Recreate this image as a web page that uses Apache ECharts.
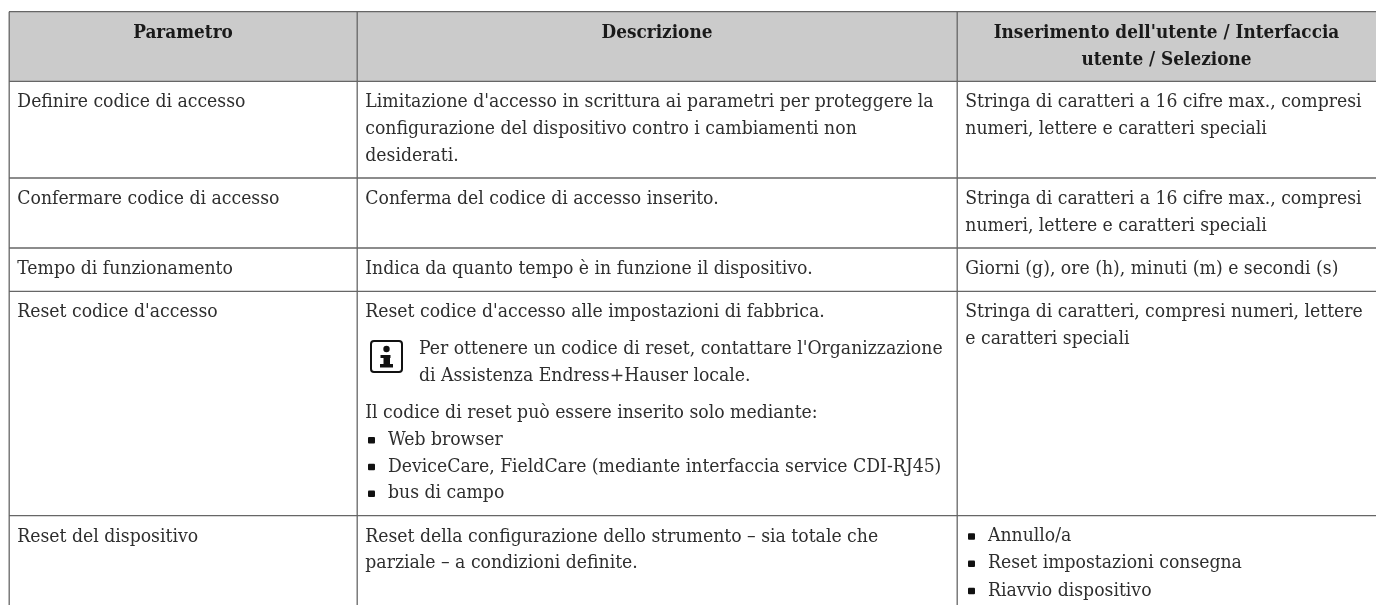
<!DOCTYPE html>
<html><head><meta charset="utf-8">
<style>html,body{margin:0;padding:0;background:#fff}#c{width:1376px;height:605px}</style>
<script src="https://cdn.jsdelivr.net/npm/echarts@6/dist/echarts.min.js"></script>
</head><body><div id="c"></div>
<script>
const headers = [["Parametro"], ["Descrizione"], ["Inserimento dell'utente / Interfaccia", "utente / Selezione"]];
const parameters = ["Definire codice di accesso", "Confermare codice di accesso", "Tempo di funzionamento", "Reset codice d'accesso", "Reset del dispositivo"];
const descriptions = [
  ["Limitazione d'accesso in scrittura ai parametri per proteggere la", "configurazione del dispositivo contro i cambiamenti non", "desiderati."],
  ["Conferma del codice di accesso inserito."],
  ["Indica da quanto tempo è in funzione il dispositivo."],
  ["Reset codice d'accesso alle impostazioni di fabbrica."],
  ["Reset della configurazione dello strumento – sia totale che", "parziale – a condizioni definite."]
];
const notice = ["Per ottenere un codice di reset, contattare l'Organizzazione", "di Assistenza Endress+Hauser locale."];
const resetIntro = "Il codice di reset può essere inserito solo mediante:";
const resetList = ["Web browser", "DeviceCare, FieldCare (mediante interfaccia service CDI-RJ45)", "bus di campo"];
const selections = [
  ["Stringa di caratteri a 16 cifre max., compresi", "numeri, lettere e caratteri speciali"],
  ["Stringa di caratteri a 16 cifre max., compresi", "numeri, lettere e caratteri speciali"],
  ["Giorni (g), ore (h), minuti (m) e secondi (s)"],
  ["Stringa di caratteri, compresi numeri, lettere", "e caratteri speciali"],
  []
];
const resetOptions = ["Annullo/a", "Reset impostazioni consegna", "Riavvio dispositivo"];

const FONT = '"DejaVu Serif Condensed","DejaVu Serif",serif';
const INK = '#2e2e2e', LINE = '#666666';
const colX = [9, 357, 957, 1376];
const rowY = [11.7, 81.3, 178, 248, 291.3, 515.7, 605];
const LH = 26.7;
const g = [];
const txt = (s, x, y, o = {}) => g.push({type:'text', x, y, silent:true, style:{text:s, fontFamily:FONT, fontSize:o.size||19.2, fontWeight:o.w||'normal', fill:o.fill||INK, textAlign:o.a||'left', textVerticalAlign:'middle'}});
const hline = (y, x1=colX[0], x2=colX[3]) => g.push({type:'line', silent:true, shape:{x1, y1:y, x2, y2:y}, style:{stroke:LINE, lineWidth:1.3}});
const vline = (x, y1, y2, w=1.3) => g.push({type:'line', silent:true, shape:{x1:x, y1, x2:x, y2}, style:{stroke:LINE, lineWidth:w}});
const box = (x, y, width, height, r=0) => g.push({type:'rect', silent:true, shape:{x, y, width, height, r}, style:{fill:'#111'}});
g.push({type:'rect', silent:true, shape:{x:colX[0], y:rowY[0], width:colX[3]-colX[0], height:rowY[1]-rowY[0]}, style:{fill:'#cbcbcb'}});
rowY.slice(0,-1).forEach(y => hline(y));
colX.slice(0,3).forEach(x => vline(x+.2, rowY[0], 605));
headers.forEach((h,i) => h.forEach((s,j) => txt(s, (colX[i]+colX[i+1])/2, 33 + j*LH, {a:'center', w:'bold', size:18.8, fill:'#1a1a1a'})));
const PAD = 8.3, T0 = 21;
parameters.forEach((p,i) => {
  const y0 = rowY[i+1] + T0;
  txt(p, colX[0]+PAD, y0);
  descriptions[i].forEach((s,j) => txt(s, colX[1]+PAD, y0 + j*LH));
  selections[i].forEach((s,j) => txt(s, colX[2]+PAD, y0 + j*LH));
});
const nY = rowY[4] + 58;
notice.forEach((s,j) => txt(s, colX[1]+62, nY + j*LH));
// Information symbol of the notice
g.push({type:'rect', silent:true, shape:{x:371, y:341, width:31, height:31, r:3}, style:{fill:'#fff', stroke:'#111', lineWidth:2}});
g.push({type:'circle', silent:true, shape:{cx:386.5, cy:349, r:3.2}, style:{fill:'#111'}});
box(380.5, 355, 10, 3); box(383.5, 355, 6.5, 12); box(380, 364, 13, 3.5);
txt(resetIntro, colX[1]+PAD, rowY[4]+121.7);
const bullet = (x,y) => box(x, y-3, 7, 6.5, 1);
resetList.forEach((s,j) => { const y = rowY[4]+148.7+j*LH; bullet(colX[1]+11, y); txt(s, colX[1]+31, y); });
resetOptions.forEach((s,j) => { const y = rowY[5]+20.5+j*27.3; bullet(colX[2]+11, y); txt(s, colX[2]+31, y); });
const chart = echarts.init(document.getElementById('c'), null, {renderer:'canvas'});
chart.setOption({animation:false, backgroundColor:'#fff', graphic:{elements:g}});
</script></body></html>
